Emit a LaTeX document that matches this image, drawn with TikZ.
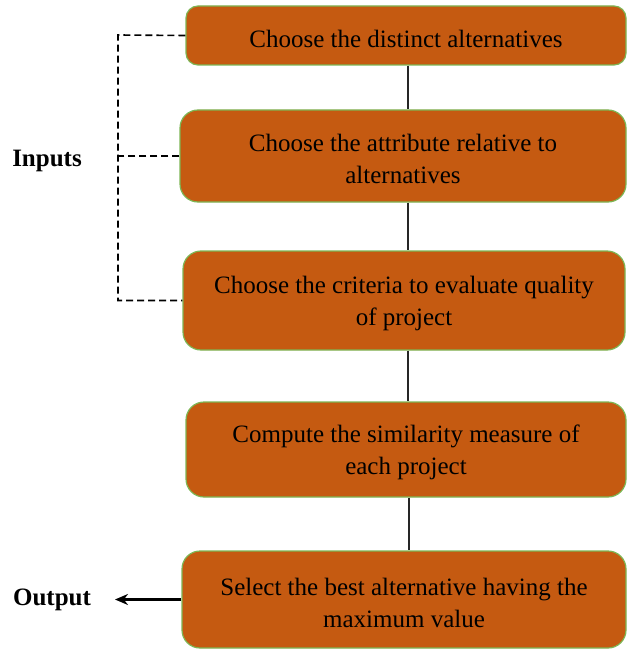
\documentclass[tikz,border=0pt]{standalone}
\usepackage{fontspec}
\setmainfont{Liberation Serif}
\usepackage{xcolor}
\usepackage{tikz}
\usetikzlibrary{arrows.meta, positioning, calc}

\definecolor{boxfill}{HTML}{C55A11}
\definecolor{boxline}{HTML}{7DB554}

\begin{document}
\begin{tikzpicture}[
  x=1pt, y=-1pt,
  blk/.style={rectangle, rounded corners=18pt, draw=boxline, fill=boxfill,
              line width=1.2pt, inner sep=0pt},
  txt/.style={align=center, yshift=-3pt, font=\fontsize{25}{32}\selectfont},
  lbl/.style={font=\fontsize{25}{30}\selectfont\bfseries},
  link/.style={black!85, line width=1.1pt},
  dlink/.style={black, line width=1.6pt, dash pattern=on 7pt off 4pt},
  arr/.style={-{Stealth[length=13pt, width=11pt]}, line width=2.2pt},
]
\useasboundingbox (0,0) rectangle (626,650);

%% ---- process steps ----
\node[blk, rounded corners=12pt, minimum width=440pt, minimum height=59pt,
      label={[txt]center:Choose the distinct alternatives}]
      (alt)  at (406,35.5) {};
\node[blk, minimum width=446pt, minimum height=92pt,
      label={[txt]center:{Choose the attribute relative to\\alternatives}}]
      (attr) at (403,156) {};
\node[blk, minimum width=442pt, minimum height=99pt,
      label={[txt]center:{Choose the criteria to evaluate quality\\of project}}]
      (crit) at (404,300.5) {};
\node[blk, minimum width=440pt, minimum height=95pt,
      label={[txt]center:{Compute the similarity measure of\\each project}}]
      (sim)  at (406,449.5) {};
\node[blk, minimum width=444pt, minimum height=97pt,
      label={[txt]center:{Select the best alternative having the\\maximum value}}]
      (best) at (404,599.5) {};

\draw[link] ([xshift=2pt]alt.south)  -- ([xshift=2pt]alt.south |- attr.north);
\draw[link] ([xshift=5pt]attr.south) -- ([xshift=5pt]attr.south |- crit.north);
\draw[link] ([xshift=4pt]crit.south) -- ([xshift=4pt]crit.south |- sim.north);
\draw[link] ([xshift=3pt]sim.south)  -- ([xshift=3pt]sim.south |- best.north);

%% ---- inputs bracket ----
\node[lbl] (inputs) at (47,161) {Inputs};
\coordinate (bus) at (118,35);
\draw[dlink] (alt.west) -- (bus) |- (crit.west);
\draw[dlink] (attr.west) -- (attr.west -| bus);

%% ---- output ----
\node[lbl] (output) at (52,600) {Output};
\coordinate (tip) at (115,600);
\draw[arr] (best.west) -- (best.west -| tip);

\end{tikzpicture}
\end{document}
